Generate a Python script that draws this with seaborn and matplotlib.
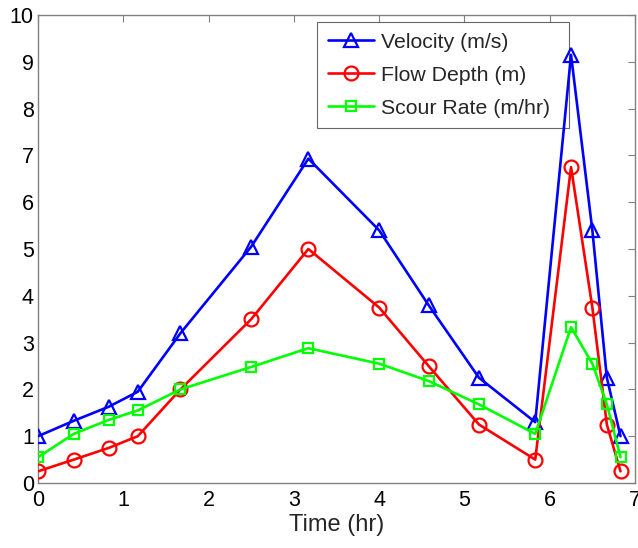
import matplotlib
matplotlib.use("Agg")
import matplotlib.pyplot as plt
import seaborn as sns
import pandas as pd

time_hr = [0.0, 0.42, 0.83, 1.17, 1.67, 2.5, 3.17, 4.0, 4.58, 5.17, 5.83, 6.25, 6.5, 6.67, 6.83]
velocity = [1.0, 1.33, 1.63, 1.95, 3.2, 5.05, 6.93, 5.4, 3.8, 2.25, 1.3, 9.15, 5.4, 2.25, 1.0]
flow_depth = [0.25, 0.5, 0.75, 1.0, 2.0, 3.5, 5.0, 3.75, 2.5, 1.25, 0.5, 6.75, 3.75, 1.25, 0.25]
scour_rate = [0.55, 1.05, 1.35, 1.55, 2.0, 2.48, 2.88, 2.55, 2.18, 1.68, 1.05, 3.33, 2.55, 1.68, 0.55]

series_names = ["Velocity (m/s)", "Flow Depth (m)", "Scour Rate (m/hr)"]
x_ticks = [0, 1, 2, 3, 4, 5, 6, 7]
y_ticks = [0, 1, 2, 3, 4, 5, 6, 7, 8, 9, 10]

sns.set_theme(style="white")
plt.rcParams["font.family"] = ["Liberation Sans", "DejaVu Sans"]

df = pd.DataFrame({"Time": time_hr, series_names[0]: velocity,
                   series_names[1]: flow_depth, series_names[2]: scour_rate})

fig = plt.figure(figsize=(6.38, 5.48), dpi=100)
ax_w_px, ax_h_px = 635 - 38, 483 - 15
ax = fig.add_axes([38 / 638, 1 - 483 / 548, ax_w_px / 638, ax_h_px / 548])

styles = [("#0000ff", "^", 10), ("#ff0000", "o", 10), ("#00ff00", "s", 7)]
for name, (color, marker, ms) in zip(series_names, styles):
    sns.lineplot(data=df, x="Time", y=name, ax=ax, color=color, marker=marker,
                 markersize=ms, markerfacecolor="none", markeredgecolor=color,
                 markeredgewidth=1.6, linewidth=1.9, label=name, zorder=3)

ax.set_xlim(0, 7)
ax.set_ylim(0, 10)
ax.set_xticks(x_ticks)
ax.set_yticks(y_ticks)
ax.set_xlabel("Time (hr)", fontsize=17, labelpad=2)
ax.set_ylabel("")
ax.tick_params(axis="both", direction="in", length=5, width=0.8, color="#808080",
               labelsize=15.5, labelcolor="black", top=True, right=True)
ax.tick_params(axis="y", pad=3)
ax.tick_params(axis="x", pad=5)
for sp in ax.spines.values():
    sp.set_color("#808080")
    sp.set_linewidth(1.0)

# legend box spanning x 317..569 px, top at y 22 px
lx0 = (317 - 38) / ax_w_px
lw = (569 - 317) / ax_w_px
ltop = 1 - (22 - 15) / ax_h_px
leg = ax.legend(loc="upper left", bbox_to_anchor=(lx0, ltop - 0.2, lw, 0.2),
                mode="expand", fontsize=15.3, frameon=True, fancybox=False,
                handlelength=2.2, borderpad=0.5, labelspacing=0.66,
                handletextpad=0.3, borderaxespad=0)
leg.get_frame().set_edgecolor("#404040")
leg.get_frame().set_linewidth(0.8)
leg.set_zorder(2.5)

fig.savefig("out.png", dpi=100)
